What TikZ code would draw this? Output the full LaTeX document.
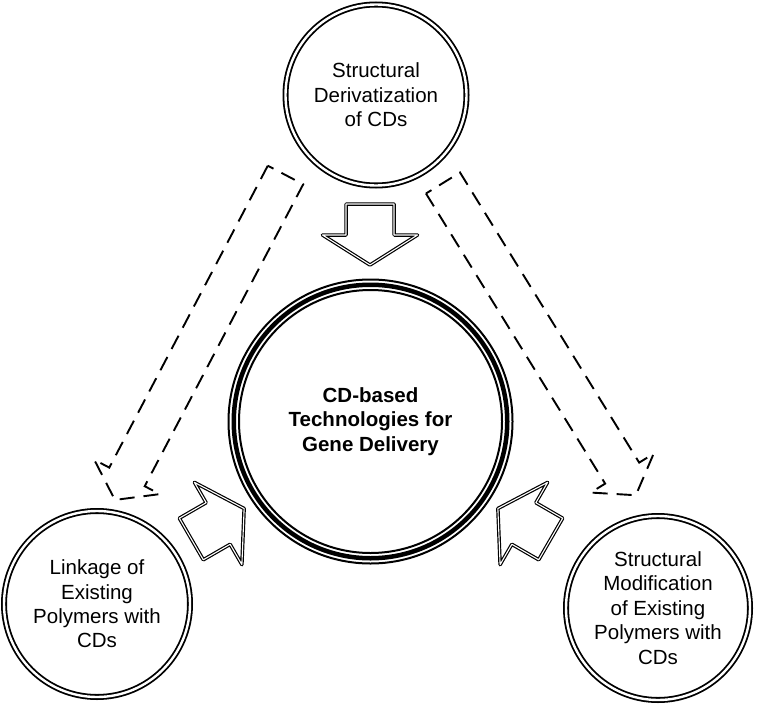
\documentclass[tikz,border=0pt]{standalone}
\usepackage{fontspec}
\setmainfont{Liberation Sans}
\begin{document}
\begin{tikzpicture}[x=1pt,y=1pt,
  txt/.style={font=\fontsize{20.5}{24.4}\selectfont, align=center},
  outercirc/.style={circle, draw, double, line width=1.8pt, double distance=2.4pt, inner sep=0pt, txt},
  solidarrow/.style={draw, double, line width=1.2pt, double distance=1.1pt, line join=round, fill=white},
  dasharrow/.style={draw, line width=1.9pt, dash pattern=on 15pt off 9pt},
  blockarrow/.pic={
    \draw[solidarrow] (0,-24) -- (31,-24) -- (31,-47.5) -- (61,0) -- (31,47.5) -- (31,24) -- (0,24) -- cycle;
  },
  dashblock/.pic={
    \draw[dasharrow] (0,-20) -- (341,-20) -- (341,-37) -- (367,0) -- (341,37) -- (341,20) -- (0,20) -- cycle;
  }
]
\useasboundingbox (0,0) rectangle (757,-709);

% nodes
\node[outercirc, minimum size=181pt] (top) at (376,-95) {Structural\\Derivatization\\of CDs};
\node[outercirc, minimum size=186pt] (left) at (97,-604) {Linkage of\\Existing\\Polymers with\\CDs};
\node[outercirc, minimum size=184pt] (right) at (658,-608) {Structural\\Modification\\of Existing\\Polymers with\\CDs};
\node[circle, draw, line width=4.5pt, minimum size=273.5pt, inner sep=0pt, txt, font=\fontsize{20.5}{24.8}\selectfont\bfseries] (core) at (370.5,-421.5) {CD-based\\Technologies for\\Gene Delivery};
\draw[line width=2pt] (core.center) circle[radius=142pt];
\draw[line width=2pt] (core.center) circle[radius=131.5pt];

% dashed block arrows
\coordinate (dl) at (285.5,-175);
\coordinate (dr) at (443,-183);
\pic[rotate=242.3] at (dl) {dashblock};
\pic[rotate=-58.3] at (dr) {dashblock};

% solid block arrows
\coordinate (ad) at (370,-204);
\coordinate (al) at (191.3,-539);
\coordinate (ar) at (550.7,-539);
\pic[rotate=-90] at (ad) {blockarrow};
\pic[rotate=30] at (al) {blockarrow};
\pic[rotate=150] at (ar) {blockarrow};
\end{tikzpicture}
\end{document}
